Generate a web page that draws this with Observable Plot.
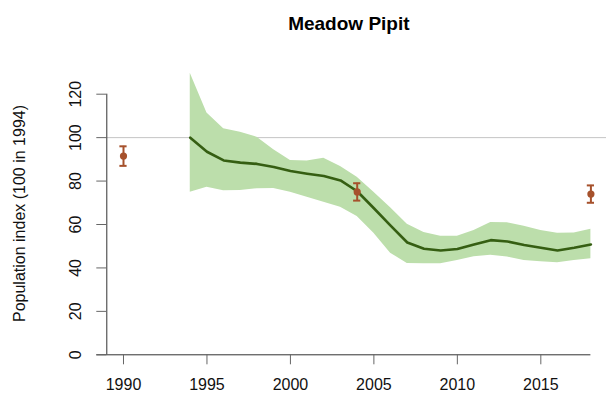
<!DOCTYPE html>
<html>
<head>
<meta charset="utf-8">
<script src="https://cdn.jsdelivr.net/npm/d3@7"></script>
<script src="https://cdn.jsdelivr.net/npm/@observablehq/plot@0.6"></script>
<style>
  html, body { margin: 0; padding: 0; background: #fff; }
  #chart { width: 606px; height: 394px; }
</style>
</head>
<body>
<div id="chart"></div>
<script>
// Smoothed population trend (index, 1994 = 100) with its confidence band
const years = [1994, 1995, 1996, 1997, 1998, 1999, 2000, 2001, 2002, 2003, 2004, 2005, 2006,
               2007, 2008, 2009, 2010, 2011, 2012, 2013, 2014, 2015, 2016, 2017, 2018];
const trend = [100, 93.5, 89.5, 88.5, 87.9, 86.5, 84.6, 83.4, 82.3, 80.3, 75.3, 67.5, 59.5,
               51.7, 48.8, 48.0, 48.7, 50.8, 52.8, 52.2, 50.6, 49.3, 48.0, 49.3, 50.8];
const upper = [129.7, 111.3, 104.1, 102.5, 100.2, 94.4, 89.5, 89.2, 90.5, 86.7, 81.8, 74.9, 67.7,
               60.1, 56.3, 54.6, 54.6, 57.2, 60.9, 60.8, 59.2, 57.2, 56.0, 56.1, 57.8];
const lower = [74.9, 77.2, 75.5, 75.7, 76.5, 76.6, 74.9, 72.6, 70.3, 68.0, 63.7, 56.0, 46.8,
               42.0, 41.9, 41.9, 43.4, 45.2, 45.8, 45.0, 43.4, 42.8, 42.4, 43.4, 44.2];

// Independent survey estimates with error bars
const surveyYears = [1990, 2004, 2018];
const surveyIndex = [91.5, 75, 74];
const surveyLow = [87, 71, 70];
const surveyHigh = [96, 79, 78];

// Axis ticks and labels
const xTicks = [1990, 1995, 2000, 2005, 2010, 2015];
const yTicks = [0, 20, 40, 60, 80, 100, 120];
const xDomain = [1989, 2018];
const yDomain = [0, 120];
const baseline = [100];
const title = "Meadow Pipit";
const yLabel = "Population index (100 in 1994)";

const series = years.map((year, i) => ({year, value: trend[i], hi: upper[i], lo: lower[i]}));
const surveys = surveyYears.map((year, i) => ({year, value: surveyIndex[i], lo: surveyLow[i], hi: surveyHigh[i]}));

const font = "'Liberation Sans', Arial, Helvetica, sans-serif";
const sienna = "#a6512c";

const chart = Plot.plot({
  width: 606,
  height: 394,
  marginLeft: 106.3,
  marginRight: 15.6,
  marginTop: 93.7,
  marginBottom: 39.7,
  style: {fontFamily: font, fontSize: "16px", color: "#111", background: "#fff"},
  x: {domain: xDomain},
  y: {domain: yDomain},
  marks: [
    // reference line at the 1994 level
    Plot.ruleY(baseline, {stroke: "#c4c4c4", strokeWidth: 1, insetRight: -16}),
    Plot.areaY(series, {x: "year", y1: "lo", y2: "hi", fill: "#bcdeab", fillOpacity: 1}),
    Plot.line(series, {x: "year", y: "value", stroke: "#355e12", strokeWidth: 2.6}),
    // error bars with caps
    Plot.ruleX(surveys, {x: "year", y1: "lo", y2: "hi", stroke: sienna, strokeWidth: 2}),
    Plot.ruleY(surveys, {y: "hi", x1: "year", x2: "year", insetLeft: -3.6, insetRight: -3.6, stroke: sienna, strokeWidth: 2}),
    Plot.ruleY(surveys, {y: "lo", x1: "year", x2: "year", insetLeft: -3.6, insetRight: -3.6, stroke: sienna, strokeWidth: 2}),
    Plot.dot(surveys, {x: "year", y: "value", r: 3.6, fill: sienna, stroke: null}),
    // axis lines
    Plot.ruleY([yDomain[0]], {stroke: "#333", strokeWidth: 1, insetLeft: -10}),
    Plot.ruleX([xDomain[0]], {y1: yDomain[0], y2: yDomain[1], stroke: "#333", strokeWidth: 1}),
    // axes
    Plot.axisX({ticks: xTicks, tickSize: 10, tickPadding: 13.7, tickFormat: d => String(d), stroke: "#666", fill: "#111", fontSize: 16, label: null}),
    Plot.axisY({ticks: yTicks, tickSize: 10, stroke: "#666", text: null, label: null, tickFormat: () => ""}),
    Plot.text(yTicks, {y: d => d, frameAnchor: "left", dx: -31, rotate: -90, text: d => String(d), fontSize: 16, fill: "#111", lineAnchor: "middle", textAnchor: "middle"}),
    Plot.text([yLabel], {frameAnchor: "left", dx: -87, dy: -11, rotate: -90, fontSize: 16, fill: "#111", lineAnchor: "middle", textAnchor: "middle"}),
    Plot.text([title], {frameAnchor: "top", dy: -64, fontSize: 19, fontWeight: "bold", fill: "#000", lineAnchor: "bottom"})
  ]
});
document.getElementById("chart").appendChild(chart);
</script>
</body>
</html>
